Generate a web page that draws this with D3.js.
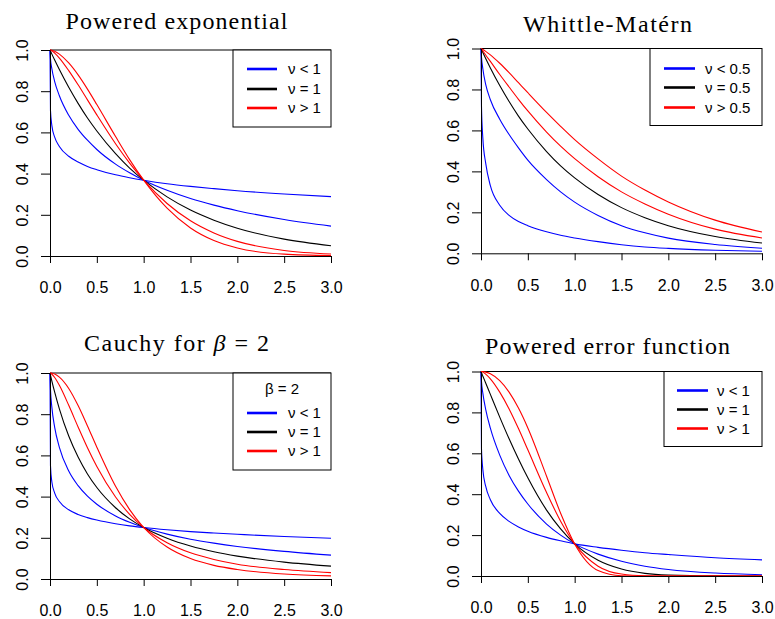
<!DOCTYPE html>
<html>
<head>
<meta charset="utf-8">
<script src="https://cdn.jsdelivr.net/npm/d3@7"></script>
<style>
  body { margin: 0; background: #fff; }
  svg { display: block; }
  .axis text { font-family: "Liberation Sans", Arial, sans-serif; font-size: 16px; fill: #000; }
  .axis path, .axis line { stroke: #000; stroke-width: 1; }
  .legend text { font-family: "Liberation Sans", Arial, sans-serif; font-size: 15px; }
  .title { font-family: "Liberation Serif", "Times New Roman", serif; font-size: 24px; }
</style>
</head>
<body>
<svg id="chart" width="775" height="619"></svg>
<script>
const xGrid = [0, 0.005, 0.02, 0.05, 0.1, 0.2, 0.3, 0.4, 0.5, 0.7, 0.85, 1, 1.25, 1.5, 1.75, 2, 2.5, 3];
const xTicks = [0, 0.5, 1, 1.5, 2, 2.5, 3];
const yTicks = [0, 0.2, 0.4, 0.6, 0.8, 1];

// powered exponential
const peBlueLow  = [1, 0.707, 0.633, 0.577, 0.532, 0.484, 0.456, 0.435, 0.419, 0.394, 0.380, 0.368, 0.351, 0.338, 0.327, 0.317, 0.301, 0.288];
const peBlueHigh = [1, 0.959, 0.909, 0.847, 0.778, 0.683, 0.615, 0.562, 0.517, 0.446, 0.404, 0.368, 0.319, 0.279, 0.247, 0.220, 0.177, 0.145];
const peBlack    = [1, 0.995, 0.980, 0.951, 0.905, 0.819, 0.741, 0.670, 0.607, 0.497, 0.427, 0.368, 0.287, 0.223, 0.174, 0.135, 0.082, 0.050];
const peRedLow   = [1, 0.999, 0.996, 0.985, 0.961, 0.900, 0.831, 0.758, 0.685, 0.545, 0.451, 0.368, 0.255, 0.171, 0.112, 0.071, 0.027, 0.010];
const peRedHigh  = [1, 1, 0.999, 0.994, 0.980, 0.937, 0.879, 0.810, 0.735, 0.580, 0.468, 0.368, 0.232, 0.136, 0.075, 0.039, 0.009, 0.002];

// Whittle-Matern
const wmBlueLow  = [1, 0.72, 0.56, 0.44, 0.33, 0.235, 0.185, 0.155, 0.135, 0.105, 0.088, 0.075, 0.057, 0.042, 0.031, 0.024, 0.015, 0.010];
const wmBlueHigh = [1, 0.96, 0.90, 0.825, 0.75, 0.655, 0.58, 0.515, 0.455, 0.36, 0.30, 0.25, 0.185, 0.135, 0.10, 0.074, 0.043, 0.025];
const wmBlack    = [1, 0.995, 0.980, 0.951, 0.905, 0.819, 0.741, 0.670, 0.607, 0.497, 0.427, 0.368, 0.287, 0.223, 0.174, 0.135, 0.082, 0.050];
const wmRedLow   = [1, 0.997, 0.988, 0.968, 0.937, 0.873, 0.812, 0.752, 0.695, 0.592, 0.523, 0.462, 0.374, 0.300, 0.241, 0.191, 0.118, 0.075];
const wmRedHigh  = [1, 0.999, 0.995, 0.986, 0.969, 0.928, 0.882, 0.833, 0.784, 0.688, 0.620, 0.555, 0.461, 0.377, 0.309, 0.251, 0.162, 0.104];

// Cauchy, beta = 2
const caBlueLow  = [1, 0.551, 0.471, 0.417, 0.376, 0.336, 0.313, 0.298, 0.286, 0.268, 0.258, 0.25, 0.239, 0.230, 0.223, 0.217, 0.206, 0.198];
const caBlueHigh = [1, 0.922, 0.833, 0.736, 0.639, 0.524, 0.453, 0.402, 0.363, 0.306, 0.275, 0.25, 0.218, 0.193, 0.174, 0.158, 0.134, 0.116];
const caBlack    = [1, 0.990, 0.961, 0.907, 0.826, 0.694, 0.592, 0.510, 0.444, 0.346, 0.292, 0.25, 0.198, 0.160, 0.132, 0.111, 0.082, 0.0625];
const caRedLow   = [1, 0.999, 0.994, 0.978, 0.940, 0.843, 0.738, 0.637, 0.546, 0.398, 0.314, 0.25, 0.176, 0.127, 0.095, 0.072, 0.046, 0.031];
const caRedHigh  = [1, 1, 0.999, 0.995, 0.980, 0.925, 0.842, 0.743, 0.640, 0.450, 0.337, 0.25, 0.155, 0.099, 0.066, 0.046, 0.024, 0.015];

// powered error function
const efBlueLow  = [1, 0.624, 0.519, 0.439, 0.373, 0.306, 0.267, 0.240, 0.219, 0.189, 0.172, 0.157, 0.140, 0.126, 0.114, 0.105, 0.089, 0.079];
const efBlueHigh = [1, 0.953, 0.893, 0.815, 0.723, 0.591, 0.492, 0.415, 0.352, 0.254, 0.200, 0.157, 0.107, 0.072, 0.048, 0.032, 0.0145, 0.0064];
const efBlack    = [1, 0.994, 0.977, 0.944, 0.888, 0.777, 0.671, 0.572, 0.480, 0.322, 0.230, 0.157, 0.077, 0.034, 0.013, 0.0047, 0.0004, 0];
const efRedLow   = [1, 1, 0.997, 0.987, 0.964, 0.899, 0.817, 0.721, 0.617, 0.408, 0.268, 0.157, 0.048, 0.0095, 0.0012, 0.0001, 0, 0];
const efRedHigh  = [1, 1, 1, 0.997, 0.989, 0.955, 0.899, 0.821, 0.724, 0.488, 0.307, 0.157, 0.027, 0.0015, 0, 0, 0, 0];

const legendNuOne  = ["ν < 1", "ν = 1", "ν > 1"];
const legendNuHalf = ["ν < 0.5", "ν = 0.5", "ν > 0.5"];

const curveColors  = ["#0000ff", "#0000ff", "#000000", "#ff0000", "#ff0000"];
const legendColors = ["#0000ff", "#000000", "#ff0000"];

const panels = [
  { title: [{ t: "Powered exponential" }], titleW: 222, titleUp: 21,
    series: [peBlueLow, peBlueHigh, peBlack, peRedLow, peRedHigh], labels: legendNuOne,
    box: { left: 50, right: 331, top: 50, bottom: 256 },
    lg: { w: 98, h: 77, rows: [19, 39, 58], seg: [14, 44], text: 55 } },
  { title: [{ t: "Whittle-Matérn" }], titleW: 169, titleUp: 17,
    series: [wmBlueLow, wmBlueHigh, wmBlack, wmRedLow, wmRedHigh], labels: legendNuHalf,
    box: { left: 481, right: 762, top: 48.5, bottom: 253.3 },
    lg: { w: 112, h: 77, rows: [20, 39, 59], seg: [14, 45], text: 55 } },
  { title: [{ t: "Cauchy for " }, { t: "β", it: true }, { t: " = 2" }], titleW: 185, titleUp: 22,
    series: [caBlueLow, caBlueHigh, caBlack, caRedLow, caRedHigh], labels: legendNuOne, legendTitle: "β = 2",
    box: { left: 50, right: 331, top: 373, bottom: 579 },
    lg: { w: 98, h: 97, rows: [40, 59, 78], seg: [14, 44], text: 55, titleY: 16 } },
  { title: [{ t: "Powered error function" }], titleW: 245, titleUp: 17.5,
    series: [efBlueLow, efBlueHigh, efBlack, efRedLow, efRedHigh], labels: legendNuOne,
    box: { left: 481, right: 762, top: 371.5, bottom: 576 },
    lg: { w: 98, h: 75, rows: [19, 38, 57], seg: [13, 44], text: 53 } }
];

const svg = d3.select("#chart");

panels.forEach(p => {
  const b = p.box;
  const x = d3.scaleLinear().domain([0, 3]).range([b.left, b.right]);
  const y = d3.scaleLinear().domain([0, 1]).range([b.bottom, b.top]);
  const g = svg.append("g");

  // title
  const title = g.append("text").attr("class", "title")
    .attr("x", (b.left + b.right) / 2 - 14)
    .attr("y", b.top - p.titleUp)
    .attr("text-anchor", "middle")
    .attr("textLength", p.titleW)
    .attr("lengthAdjust", "spacing");
  p.title.forEach(part => {
    title.append("tspan").text(part.t).attr("font-style", part.it ? "italic" : null);
  });

  // line along the top of the plot
  g.append("line")
    .attr("x1", x(0)).attr("x2", x(3))
    .attr("y1", y(1)).attr("y2", y(1))
    .attr("stroke", "#000").attr("stroke-width", 1);

  const line = d3.line()
    .x((d, i) => x(xGrid[i]))
    .y(d => y(d))
    .curve(d3.curveMonotoneX);

  p.series.forEach((s, i) => {
    g.append("path")
      .attr("d", line(s))
      .attr("fill", "none")
      .attr("stroke", curveColors[i])
      .attr("stroke-width", 1.1);
  });

  // axes
  g.append("g").attr("class", "axis")
    .attr("transform", `translate(0,${b.bottom})`)
    .call(d3.axisBottom(x).tickValues(xTicks).tickSize(7).tickSizeOuter(0)
      .tickPadding(19).tickFormat(d3.format(".1f")));

  const ya = g.append("g").attr("class", "axis")
    .attr("transform", `translate(${b.left},0)`)
    .call(d3.axisLeft(y).tickValues(yTicks).tickSize(9).tickSizeOuter(0)
      .tickFormat(d3.format(".1f")));
  ya.selectAll(".tick text")
    .attr("x", 0).attr("dy", 0)
    .attr("text-anchor", "middle")
    .attr("transform", "translate(-22,0) rotate(-90)");

  // legend
  const lg = p.lg;
  const lgx = b.right - lg.w, lgy = b.top;
  const leg = g.append("g").attr("class", "legend");
  leg.append("rect")
    .attr("x", lgx).attr("y", lgy)
    .attr("width", lg.w).attr("height", lg.h)
    .attr("fill", "#fff").attr("stroke", "#000").attr("stroke-width", 1);
  if (p.legendTitle) {
    leg.append("text")
      .attr("x", lgx + lg.w / 2).attr("y", lgy + lg.titleY + 5)
      .attr("text-anchor", "middle")
      .text(p.legendTitle);
  }
  p.labels.forEach((lab, i) => {
    const ly = lgy + lg.rows[i];
    leg.append("line")
      .attr("x1", lgx + lg.seg[0]).attr("x2", lgx + lg.seg[1])
      .attr("y1", ly).attr("y2", ly)
      .attr("stroke", legendColors[i]).attr("stroke-width", 2.6);
    leg.append("text")
      .attr("x", lgx + lg.text).attr("y", ly + 5.3)
      .text(lab);
  });
});
</script>
</body>
</html>
